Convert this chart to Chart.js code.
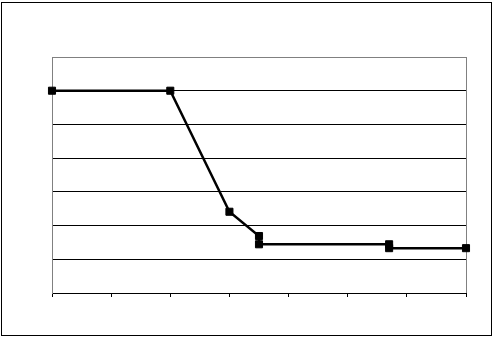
<!DOCTYPE html>
<html>
<head>
<meta charset="utf-8">
<script src="https://cdn.jsdelivr.net/npm/chart.js@4/dist/chart.umd.min.js"></script>
<style>
  html, body { margin: 0; padding: 0; background: #fff; }
  #wrap { position: relative; width: 494px; height: 337px; }
</style>
</head>
<body>
<div id="wrap"><canvas id="chart" width="494" height="337"></canvas></div>
<script>
// values
var xValues = [0, 2, 3, 3.5, 3.5, 5.7, 5.7, 7];
var yValues = [6, 6, 2.41, 1.69, 1.445, 1.445, 1.33, 1.33];
var yTicks = [0, 1, 2, 3, 4, 5, 6, 7];

var points = xValues.map(function(x, i){ return { x: x, y: yValues[i] }; });

// outer frame + gray right edge of the plot area
var frame = {
  id: 'frame',
  beforeDraw: function(chart){
    var c = chart.ctx;
    c.save();
    c.fillStyle = '#fff';
    c.fillRect(0, 0, chart.width, chart.height);
    c.restore();
  },
  beforeDatasetsDraw: function(chart){
    var c = chart.ctx, a = chart.chartArea;
    c.save();
    c.strokeStyle = '#808080';
    c.lineWidth = 1;
    c.beginPath();
    c.moveTo(Math.round(a.right) + 0.5, a.top);
    c.lineTo(Math.round(a.right) + 0.5, a.bottom);
    c.stroke();
    c.restore();
  },
  afterDraw: function(chart){
    var c = chart.ctx;
    c.save();
    c.strokeStyle = '#000';
    c.lineWidth = 1;
    c.strokeRect(1.5, 2.5, 490, 333);
    c.restore();
  }
};

var chart = new Chart(document.getElementById('chart').getContext('2d'), {
  type: 'scatter',
  data: {
    datasets: [{
      data: points,
      showLine: true,
      clip: false,
      borderColor: '#000',
      borderWidth: 2.5,
      backgroundColor: '#000',
      pointStyle: 'rect',
      pointRadius: 5,
      pointBorderWidth: 1,
      pointBorderColor: '#000',
      pointBackgroundColor: '#000',
      tension: 0
    }]
  },
  options: {
    responsive: false,
    animation: false,
    devicePixelRatio: 1,
    layout: {
      padding: { left: 52, top: 57, right: 28, bottom: 44 }
    },
    plugins: {
      legend: { display: false },
      tooltip: { enabled: false }
    },
    scales: {
      x: {
        type: 'linear',
        min: 0,
        max: 7,
        afterFit: function(s){ s.height = 0; },
        ticks: { display: false, stepSize: 1 },
        grid: {
          drawOnChartArea: false,
          drawTicks: true,
          tickLength: 4,
          color: '#000'
        },
        border: { display: true, color: '#000', width: 1 }
      },
      y: {
        type: 'linear',
        min: 0,
        max: 7,
        afterFit: function(s){ s.width = 0; },
        afterBuildTicks: function(s){
          s.ticks = yTicks.map(function(v){ return { value: v }; });
        },
        ticks: { display: false },
        grid: {
          drawTicks: false,
          color: function(ctx){ return ctx.tick && ctx.tick.value === 7 ? '#808080' : '#000'; }
        },
        border: { display: true, color: '#808080', width: 1 }
      }
    }
  },
  plugins: [frame]
});
</script>
</body>
</html>
